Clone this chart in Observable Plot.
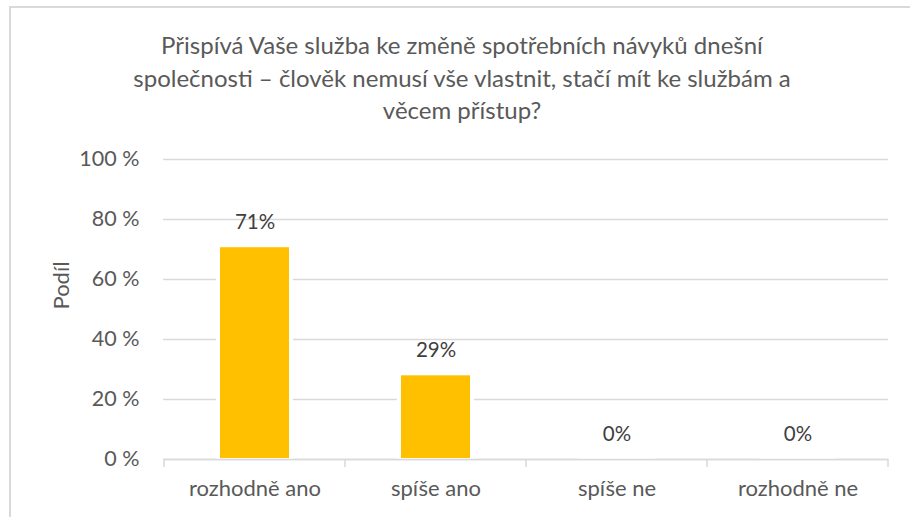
<!DOCTYPE html>
<html>
<head>
<meta charset="utf-8">
<script src="https://cdn.jsdelivr.net/npm/d3@7"></script>
<script src="https://cdn.jsdelivr.net/npm/@observablehq/plot@0.6"></script>
<style>
  html, body { margin: 0; padding: 0; background: #fff; }
  #wrap { position: relative; width: 910px; height: 517px; overflow: hidden; font-family: Lato, "Open Sans", sans-serif; }
  #frame { position: absolute; left: 9px; top: 6px; width: 920px; height: 530px; border-left: 2px solid #d9d9d9; border-top: 2px solid #d9d9d9; box-sizing: border-box; }
  #title { position: absolute; left: 0; top: 29px; width: 924px; text-align: center; font-size: 24px; line-height: 32.5px; color: #595959; }
  #chart { position: absolute; left: 0; top: 140px; }
</style>
</head>
<body>
<div id="wrap">
  <div id="frame"></div>
  <div id="title"></div>
  <div id="chart"></div>
</div>
<script>
const titleLines = [
  "Přispívá Vaše služba ke změně spotřebních návyků dnešní",
  "společnosti – člověk nemusí vše vlastnit, stačí mít ke službám a",
  "věcem přístup?"
];
const categories = ["rozhodně ano", "spíše ano", "spíše ne", "rozhodně ne"];
const values = [70.6, 27.9, 0, 0];
const valueLabels = ["71%", "29%", "0%", "0%"];
const yTicks = [0, 20, 40, 60, 80, 100];
const yLabel = "Podíl";

document.getElementById("title").innerHTML = titleLines.join("<br>");

const data = categories.map((c, i) => ({cat: c, v: values[i], lab: valueLabels[i]}));

const chart = Plot.plot({
  width: 910,
  height: 377,
  marginTop: 19,
  marginBottom: 58,
  marginLeft: 163,
  marginRight: 22,
  style: {fontFamily: "Lato, 'Open Sans', sans-serif", fontSize: "20px", color: "#595959", background: "transparent"},
  x: {domain: categories, paddingInner: 0.62, paddingOuter: 0.31, label: null},
  y: {domain: [0, 100], label: null},
  marks: [
    Plot.gridY(yTicks, {stroke: "#d9d9d9", strokeOpacity: 1, strokeWidth: 1.3}),
    Plot.barY(data, {x: "cat", y: "v", fill: "white", insetLeft: -4, insetRight: -4, insetTop: -4}),
    Plot.barY(data, {x: "cat", y: "v", fill: "#FFC000", insetBottom: 1}),
    Plot.ruleY([0], {stroke: "#d9d9d9", strokeWidth: 1.5}),
    Plot.axisY(yTicks, {tickSize: 0, tickPadding: 24, tickFormat: d => d + " %", fontSize: 21.5, fill: "#595959"}),
    Plot.axisX({tickSize: 0, tickPadding: 21, fontSize: 22, fill: "#595959"}),
    Plot.text(data, {x: "cat", y: "v", text: "lab", dy: -25, fontSize: 20.5, fill: "#404040"}),
    Plot.text([yLabel], {frameAnchor: "left", dx: -102, rotate: -90, fontSize: 22, fill: "#595959"})
  ]
});

document.getElementById("chart").appendChild(chart);

// category separator ticks on the x axis, positioned from the library's x and y scales
const xs = chart.scale("x");
const ys = chart.scale("y");
const pad = (xs.step - xs.bandwidth) / 2;
const bounds = categories.map(c => xs.apply(c) - pad);
bounds.push(xs.apply(categories[categories.length - 1]) + xs.bandwidth + pad);
const y0 = ys.apply(0);
d3.select(chart).append("g")
  .selectAll("line").data(bounds).join("line")
  .attr("x1", d => d).attr("x2", d => d)
  .attr("y1", y0).attr("y2", y0 + 8)
  .attr("stroke", "#d9d9d9").attr("stroke-width", 1.5);
</script>
</body>
</html>
